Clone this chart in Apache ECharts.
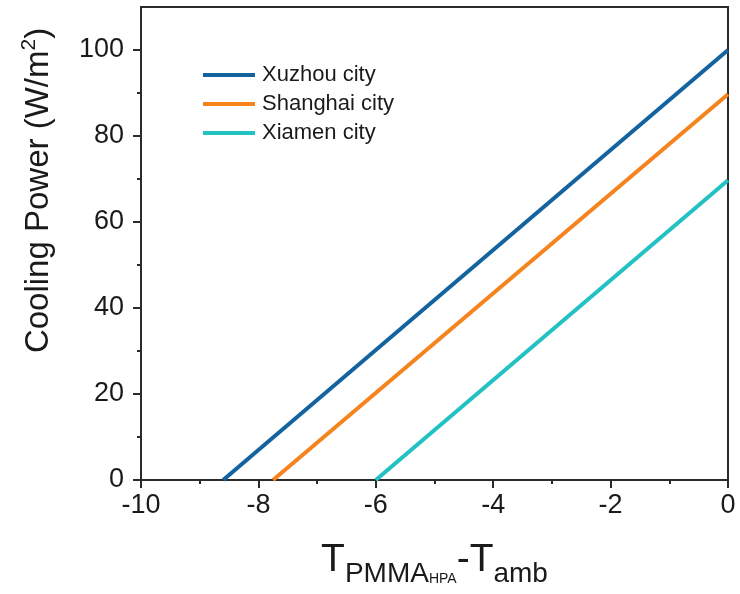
<!DOCTYPE html>
<html>
<head>
<meta charset="utf-8">
<script src="https://cdn.jsdelivr.net/npm/echarts@6/dist/echarts.min.js"></script>
<style>
  html, body { margin: 0; padding: 0; background: #fff; }
  #chart { width: 740px; height: 594px; }
</style>
</head>
<body>
<div id="chart"></div>
<script>
// Cooling power vs. temperature difference for three cities (linear fits)
const cities = ['Xuzhou city', 'Shanghai city', 'Xiamen city'];
const xuzhou = [[-8.6, 0], [0, 100]];
const shanghai = [[-7.75, 0], [0, 89.7]];
const xiamen = [[-6.0, 0], [0, 69.7]];
const seriesData = [xuzhou, shanghai, xiamen];
const colors = ['#13639f', '#f5841f', '#22c1c3'];

const yMajorTicks = [0, 20, 40, 60, 80, 100];
const yMinorTicks = [10, 30, 50, 70, 90];

const FONT = 'Liberation Sans, Arial, Helvetica, sans-serif';
const INK = '#1a1a1a';
const AXIS = '#2b2b2b';

const gridBox = { left: 141, right: 12, top: 7, bottom: 114 };

const chart = echarts.init(document.getElementById('chart'), null, { renderer: 'canvas' });

chart.setOption({
  animation: false,
  backgroundColor: '#fff',
  grid: [
    Object.assign({ show: true, borderColor: AXIS, borderWidth: 2, backgroundColor: 'transparent' }, gridBox),
    // overlay grid used only for the minor ticks on the left axis
    Object.assign({ show: false }, gridBox)
  ],
  legend: {
    orient: 'vertical',
    left: 198, top: 59,
    icon: 'rect',
    itemWidth: 52, itemHeight: 4,
    itemGap: 7,
    textStyle: { fontFamily: FONT, fontSize: 22, color: INK, padding: [0, 0, 0, 2] },
    data: cities
  },
  xAxis: [
    {
      type: 'value',
      gridIndex: 0,
      min: -10, max: 0, interval: 2,
      name: '{t|T}{s|PMMA}{ss|HPA}{t|-T}{s|amb}',
      nameLocation: 'middle',
      nameGap: 61,
      nameTextStyle: {
        fontFamily: FONT, color: INK,
        rich: {
          t: { fontFamily: FONT, fontSize: 39, color: INK, verticalAlign: 'bottom', padding: [0, 0, 8, 0] },
          s: { fontFamily: FONT, fontSize: 28, color: INK, verticalAlign: 'bottom' },
          ss: { fontFamily: FONT, fontSize: 14, color: INK, verticalAlign: 'bottom', padding: [0, 0, 2, 0] }
        }
      },
      axisLine: { show: true, onZero: false, lineStyle: { color: AXIS, width: 2 } },
      axisTick: { show: true, inside: false, length: 8, lineStyle: { color: AXIS, width: 2 } },
      minorTick: { show: true, splitNumber: 2, length: 4, lineStyle: { color: AXIS, width: 2 } },
      axisLabel: { fontFamily: FONT, fontSize: 27, color: INK, margin: 12 },
      splitLine: { show: false },
      minorSplitLine: { show: false }
    },
    {
      type: 'value',
      gridIndex: 1,
      min: -10, max: 0,
      show: false
    }
  ],
  yAxis: [
    {
      type: 'value',
      gridIndex: 0,
      min: 0, max: 110,
      name: '{a|Cooling Power (W/m}{sup|2}{a|)}',
      nameLocation: 'middle',
      nameGap: 86,
      nameTextStyle: {
        fontFamily: FONT, color: INK,
        padding: [0, 0, 0, 106],
        rich: {
          a: { fontFamily: FONT, fontSize: 33, color: INK, verticalAlign: 'bottom' },
          sup: { fontFamily: FONT, fontSize: 21, color: INK, verticalAlign: 'bottom', padding: [0, 0, 15, 0] }
        }
      },
      axisLine: { show: true, onZero: false, lineStyle: { color: AXIS, width: 2 } },
      axisTick: { show: true, inside: false, length: 8, customValues: yMajorTicks, lineStyle: { color: AXIS, width: 2 } },
      axisLabel: { fontFamily: FONT, fontSize: 27, color: INK, margin: 17, customValues: yMajorTicks },
      splitLine: { show: false }
    },
    {
      type: 'value',
      gridIndex: 1,
      min: 0, max: 110,
      position: 'left',
      axisLine: { show: false, onZero: false },
      axisTick: { show: true, inside: false, length: 4, customValues: yMinorTicks, lineStyle: { color: AXIS, width: 2 } },
      axisLabel: { show: false },
      splitLine: { show: false }
    }
  ],
  series: cities.map((name, i) => ({
    name: name,
    type: 'line',
    xAxisIndex: 0,
    yAxisIndex: 0,
    data: seriesData[i],
    symbol: 'none',
    showSymbol: false,
    color: colors[i],
    lineStyle: { width: 4, color: colors[i] },
    z: 3
  }))
});
</script>
</body>
</html>
